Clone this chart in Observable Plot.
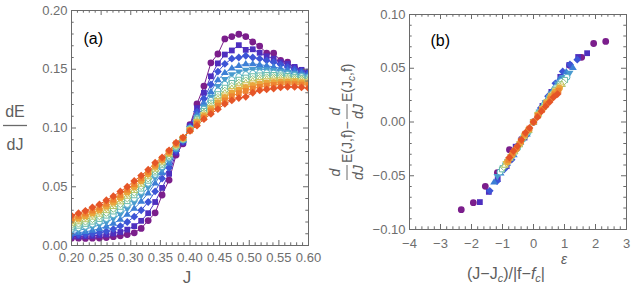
<!DOCTYPE html>
<html><head><meta charset="utf-8">
<script src="https://cdn.jsdelivr.net/npm/d3@7"></script>
<script src="https://cdn.jsdelivr.net/npm/@observablehq/plot@0.6"></script>
<style>
body{margin:0;background:#fff;}
#wrap{position:relative;width:631px;height:290px;overflow:hidden;font-family:"Liberation Sans",Arial,sans-serif;background:#fff;}
#wrap svg{position:absolute;}
</style></head><body><div id="wrap"></div>
<script>
// ---------- data ----------
const jValues = [0.2000,0.2118,0.2235,0.2353,0.2471,0.2588,0.2706,0.2824,0.2941,0.3059,0.3176,0.3294,0.3412,0.3529,0.3647,0.3765,0.3882,0.4000,0.4118,0.4235,0.4353,0.4471,0.4588,0.4706,0.4824,0.4941,0.5059,0.5176,0.5294,0.5412,0.5529,0.5647,0.5765,0.5882,0.6000];
const seriesNames = ["f1","f2","f3","f4","f5","f6","f7","f8","f9","f10","f11","f12","f13"];
const series1 = [0.0062,0.0062,0.0060,0.0062,0.0064,0.0068,0.0075,0.0083,0.0093,0.0108,0.0145,0.0212,0.0278,0.0430,0.0557,0.0770,0.0866,0.1028,0.1205,0.1357,0.1555,0.1630,0.1758,0.1778,0.1798,0.1778,0.1732,0.1697,0.1636,0.1636,0.1575,0.1560,0.1514,0.1490,0.1474];
const series2 = [0.0076,0.0077,0.0079,0.0082,0.0087,0.0093,0.0102,0.0115,0.0135,0.0165,0.0210,0.0275,0.0370,0.0490,0.0610,0.0790,0.0875,0.1020,0.1170,0.1300,0.1440,0.1550,0.1625,0.1660,0.1705,0.1665,0.1670,0.1640,0.1610,0.1590,0.1560,0.1545,0.1520,0.1495,0.1480];
const series3 = [0.0089,0.0092,0.0096,0.0102,0.0110,0.0122,0.0140,0.0165,0.0200,0.0245,0.0300,0.0370,0.0460,0.0570,0.0660,0.0805,0.0885,0.1010,0.1140,0.1250,0.1370,0.1480,0.1545,0.1590,0.1600,0.1615,0.1600,0.1590,0.1575,0.1560,0.1540,0.1520,0.1500,0.1482,0.1468];
const series4 = [0.0103,0.0109,0.0117,0.0128,0.0143,0.0162,0.0188,0.0222,0.0265,0.0315,0.0375,0.0445,0.0530,0.0620,0.0700,0.0815,0.0892,0.1005,0.1115,0.1210,0.1310,0.1410,0.1470,0.1510,0.1530,0.1545,0.1545,0.1540,0.1530,0.1520,0.1508,0.1495,0.1480,0.1466,0.1455];
const series5 = [0.0120,0.0129,0.0141,0.0156,0.0175,0.0198,0.0228,0.0265,0.0313,0.0365,0.0425,0.0495,0.0575,0.0650,0.0725,0.0825,0.0897,0.1000,0.1095,0.1180,0.1265,0.1355,0.1415,0.1455,0.1478,0.1492,0.1500,0.1500,0.1497,0.1490,0.1482,0.1473,0.1462,0.1451,0.1441];
const series6 = [0.0138,0.0150,0.0164,0.0182,0.0203,0.0230,0.0262,0.0302,0.0350,0.0400,0.0460,0.0530,0.0605,0.0672,0.0745,0.0832,0.0900,0.0995,0.1085,0.1160,0.1235,0.1315,0.1372,0.1412,0.1438,0.1455,0.1465,0.1470,0.1470,0.1467,0.1462,0.1455,0.1447,0.1438,0.1429];
const series7 = [0.0155,0.0169,0.0185,0.0204,0.0227,0.0255,0.0290,0.0330,0.0378,0.0428,0.0485,0.0552,0.0622,0.0688,0.0757,0.0840,0.0903,0.0992,0.1075,0.1145,0.1215,0.1287,0.1342,0.1383,0.1410,0.1428,0.1440,0.1447,0.1450,0.1450,0.1447,0.1442,0.1435,0.1427,0.1419];
const series8 = [0.0171,0.0186,0.0203,0.0224,0.0248,0.0277,0.0312,0.0352,0.0400,0.0450,0.0505,0.0570,0.0638,0.0700,0.0767,0.0845,0.0906,0.0990,0.1068,0.1132,0.1198,0.1265,0.1318,0.1358,0.1386,0.1405,0.1418,0.1427,0.1432,0.1434,0.1433,0.1430,0.1424,0.1417,0.1410];
const series9 = [0.0186,0.0202,0.0220,0.0242,0.0267,0.0297,0.0332,0.0372,0.0420,0.0468,0.0522,0.0585,0.0650,0.0710,0.0775,0.0850,0.0909,0.0987,0.1060,0.1122,0.1185,0.1248,0.1298,0.1337,0.1365,0.1385,0.1400,0.1410,0.1416,0.1420,0.1420,0.1418,0.1413,0.1407,0.1401];
const series10 = [0.0200,0.0217,0.0236,0.0259,0.0285,0.0315,0.0350,0.0390,0.0437,0.0485,0.0537,0.0598,0.0662,0.0720,0.0783,0.0855,0.0911,0.0985,0.1055,0.1112,0.1172,0.1232,0.1280,0.1318,0.1346,0.1367,0.1383,0.1394,0.1401,0.1406,0.1408,0.1407,0.1403,0.1398,0.1392];
const series11 = [0.0214,0.0232,0.0252,0.0276,0.0302,0.0333,0.0368,0.0408,0.0455,0.0500,0.0552,0.0610,0.0673,0.0728,0.0790,0.0862,0.0914,0.0982,0.1045,0.1100,0.1160,0.1215,0.1260,0.1298,0.1325,0.1345,0.1362,0.1375,0.1383,0.1389,0.1392,0.1392,0.1390,0.1386,0.1380];
const series12 = [0.0233,0.0252,0.0272,0.0297,0.0323,0.0355,0.0390,0.0430,0.0475,0.0522,0.0572,0.0626,0.0688,0.0738,0.0800,0.0868,0.0917,0.0978,0.1035,0.1088,0.1142,0.1190,0.1235,0.1270,0.1297,0.1315,0.1335,0.1350,0.1360,0.1367,0.1372,0.1374,0.1373,0.1370,0.1365];
const series13 = [0.0255,0.0275,0.0295,0.0325,0.0350,0.0385,0.0420,0.0460,0.0500,0.0550,0.0595,0.0645,0.0705,0.0750,0.0810,0.0875,0.0920,0.0975,0.1020,0.1075,0.1120,0.1160,0.1205,0.1235,0.1255,0.1265,0.1300,0.1320,0.1328,0.1336,0.1345,0.1350,0.1350,0.1345,0.1338];
// scaling-collapse parameters (panel b)
const criticalJ = 0.4;
const collapseHalfWidth = 0.071;
const collapseScale = [33, 24.5, 20, 18, 16.5, 15.3, 14.4, 13.6, 13, 12.4, 11.9, 11.4, 11];
// tick labels
const xTicksA = [0.20,0.25,0.30,0.35,0.40,0.45,0.50,0.55,0.60];
const yTicksA = [0.00,0.05,0.10,0.15,0.20];
const xTicksB = [-4,-3,-2,-1,0,1,2,3];
const yTicksB = [-0.10,-0.05,0.00,0.05,0.10];

// ---------- styles ----------
const seriesColors = ["#7b1e8c","#4e2fbf","#3d55d6","#3c7fd6","#4a9bd0","#55b0c4","#68bca8","#87c284","#aec466","#d1c150","#eaa63c","#ee8431","#e55527"];
const shapes = ["circle","square","diamond","up","down","circle","square","diamond","up","down","circle","square","diamond"];
const openMarker = [false,false,false,false,false,true,true,true,true,true,false,false,false];

const allSeries = [series1,series2,series3,series4,series5,series6,series7,series8,series9,series10,series11,series12,series13];

function makeSymbol(kind){
  return {draw(ctx, size){
    const r = Math.sqrt(size/Math.PI);
    if (kind==="circle"){ ctx.moveTo(r,0); ctx.arc(0,0,r,0,2*Math.PI); }
    else if (kind==="square"){ const h=r*0.85; ctx.moveTo(-h,-h); ctx.lineTo(h,-h); ctx.lineTo(h,h); ctx.lineTo(-h,h); ctx.closePath(); }
    else if (kind==="diamond"){ const h=r*1.15; ctx.moveTo(0,-h); ctx.lineTo(h,0); ctx.lineTo(0,h); ctx.lineTo(-h,0); ctx.closePath(); }
    else if (kind==="up"){ const h=r*1.15; ctx.moveTo(0,-h); ctx.lineTo(h,h*0.6); ctx.lineTo(-h,h*0.6); ctx.closePath(); }
    else { const h=r*1.15; ctx.moveTo(0,h); ctx.lineTo(h,-h*0.6); ctx.lineTo(-h,-h*0.6); ctx.closePath(); }
  }};
}
const symbols = shapes.map(makeSymbol);

// ---------- tables ----------
const rowsA = [];
allSeries.forEach((vals,i)=> vals.forEach((v,k)=> rowsA.push({series:seriesNames[i], i, J:jValues[k], v})));
const kc = jValues.indexOf(criticalJ);
const rowsB = [];
allSeries.forEach((vals,i)=> vals.forEach((v,k)=>{
  const J = jValues[k];
  if (Math.abs(J-criticalJ) <= collapseHalfWidth)
    rowsB.push({series:seriesNames[i], i, x:(J-criticalJ)*collapseScale[i], y:v - vals[kc]});
}));

const frameColor = "#6a6a6a";
const textColor = "#6e6e6e";
const minus = s => s.replace("-", "\u2212");

function frameTicks(xMajor, xMinor, yMajor, yMinor, fw, fh){
  const M = 5, m = 2.7;
  const o = {stroke: frameColor, strokeWidth: 1};
  return [
    Plot.tickX(xMajor, {x: d=>d, insetTop: fh-M, ...o}),
    Plot.tickX(xMajor, {x: d=>d, insetBottom: fh-M, ...o}),
    Plot.tickX(xMinor, {x: d=>d, insetTop: fh-m, ...o}),
    Plot.tickX(xMinor, {x: d=>d, insetBottom: fh-m, ...o}),
    Plot.tickY(yMajor, {y: d=>d, insetRight: fw-M, ...o}),
    Plot.tickY(yMajor, {y: d=>d, insetLeft: fw-M, ...o}),
    Plot.tickY(yMinor, {y: d=>d, insetRight: fw-m, ...o}),
    Plot.tickY(yMinor, {y: d=>d, insetLeft: fw-m, ...o}),
    Plot.frame({stroke: frameColor, strokeWidth: 1})
  ];
}

function seriesDots(rows, clip){
  return seriesNames.map((name,i)=> Plot.dot(rows.filter(d=>d.i===i), {
    x: rows===rowsA ? "J" : "x", y: rows===rowsA ? "v" : "y",
    symbol: symbols[i],
    r: openMarker[i] ? 3.0 : 3.4,
    fill: openMarker[i] ? "white" : "series",
    stroke: openMarker[i] ? "series" : "none",
    strokeWidth: 1,
    clip
  }));
}

const wrap = document.getElementById("wrap");
const fontFamily = '"Liberation Sans", Arial, sans-serif';

// ---------- panel (a) ----------
const A = {w:320, h:290, ml:71, mr:12, mt:10, mb:45};
const fwA = A.w-A.ml-A.mr, fhA = A.h-A.mt-A.mb;
const plotA = Plot.plot({
  width: A.w, height: A.h, marginLeft: A.ml, marginRight: A.mr, marginTop: A.mt, marginBottom: A.mb,
  x: {domain: [0.2, 0.6], label: null},
  y: {domain: [0, 0.2], label: null},
  color: {type: "ordinal", domain: seriesNames, range: seriesColors},
  style: {fontFamily, background: "transparent", overflow: "visible"},
  marks: [
    Plot.line(rowsA, {x: "J", y: "v", z: "series", stroke: "series", strokeWidth: 1, clip: true}),
    ...seriesDots(rowsA, true),
    ...frameTicks(xTicksA, d3.range(0.21, 0.6, 0.01).filter(v=>Math.abs(v*20-Math.round(v*20))>1e-6), yTicksA, d3.range(0.01, 0.2, 0.01).filter(v=>Math.abs(v*20-Math.round(v*20))>1e-6), fwA, fhA),
    Plot.axisX(xTicksA, {tickSize: 0, tickPadding: 7, tickFormat: d=>d.toFixed(2), fontSize: 13, fill: textColor, label: null}),
    Plot.axisY(yTicksA, {tickSize: 0, tickPadding: 4, tickFormat: d=>d.toFixed(2), fontSize: 13, fill: textColor, label: null}),
    Plot.text(["(a)"], {frameAnchor: "top-left", dx: 12, dy: 22, text: d=>d, fontSize: 16, fill: "black", textAnchor: "start"})
  ]
});
plotA.style.left = "0px"; plotA.style.top = "0px";
wrap.appendChild(plotA);

// ---------- panel (b) ----------
const B = {w:301, h:290, ml:79, mr:5, mt:14, mb:61};
const fwB = B.w-B.ml-B.mr, fhB = B.h-B.mt-B.mb;
const plotB = Plot.plot({
  width: B.w, height: B.h, marginLeft: B.ml, marginRight: B.mr, marginTop: B.mt, marginBottom: B.mb,
  x: {domain: [-4, 3], label: null},
  y: {domain: [-0.1, 0.1], label: null},
  color: {type: "ordinal", domain: seriesNames, range: seriesColors},
  style: {fontFamily, background: "transparent", overflow: "visible"},
  marks: [
    ...seriesDots(rowsB, false),
    ...frameTicks(xTicksB, d3.range(-3.8, 3, 0.2).filter(v=>Math.abs(v-Math.round(v))>1e-6), yTicksB, d3.range(-0.09, 0.1, 0.01).filter(v=>Math.abs(v*20-Math.round(v*20))>1e-6), fwB, fhB),
    Plot.axisX(xTicksB, {tickSize: 0, tickPadding: 9, tickFormat: d=>minus(String(d)), fontSize: 13, fill: textColor, label: null}),
    Plot.axisY(yTicksB, {tickSize: 0, tickPadding: 4, tickFormat: d=>minus(d.toFixed(2)), fontSize: 13, fill: textColor, label: null}),
    Plot.text(["(b)"], {frameAnchor: "top-left", dx: 21, dy: 20, text: d=>d, fontSize: 16, fill: "black", textAnchor: "start"})
  ]
});
plotB.style.left = "330px"; plotB.style.top = "0px";
wrap.appendChild(plotB);

// ---------- axis titles ----------
const ns = "http://www.w3.org/2000/svg";
const ov = document.createElementNS(ns, "svg");
ov.setAttribute("width", 631); ov.setAttribute("height", 290);
ov.style.left = "0px"; ov.style.top = "0px"; ov.style.pointerEvents = "none";
ov.innerHTML = `
<g font-family='${fontFamily}' fill='#5e5e5e'>
  <text x="15" y="117" font-size="16" text-anchor="middle">dE</text>
  <line x1="3" x2="27" y1="125.5" y2="125.5" stroke="#6a6a6a" stroke-width="1.3"/>
  <text x="15" y="150" font-size="16" text-anchor="middle">dJ</text>
  <text x="187" y="283" font-size="17" text-anchor="middle">J</text>
  <text x="506" y="279" font-size="16" text-anchor="middle">(J\u2212J<tspan font-size="11" font-style="italic" dy="3">c</tspan><tspan dy="-3">)/|f\u2212</tspan><tspan font-style="italic">f</tspan><tspan font-size="11" font-style="italic" dy="3">c</tspan><tspan dy="-3">|</tspan></text>
  <text x="561" y="264" font-size="14" font-style="italic">\u03b5</text>
  <g transform="translate(352,119) rotate(-90)" font-size="14">
    <text x="-53.5" y="-12" text-anchor="middle" font-style="italic">d</text>
    <line x1="-61" x2="-46" y1="-5" y2="-5" stroke="#6a6a6a" stroke-width="1"/>
    <text x="-53.5" y="11" text-anchor="middle" font-style="italic">dJ</text>
    <text x="-44" y="0">E(J,f)\u2212</text>
    <text x="7.5" y="-12" text-anchor="middle" font-style="italic">d</text>
    <line x1="0" x2="15" y1="-5" y2="-5" stroke="#6a6a6a" stroke-width="1"/>
    <text x="7.5" y="11" text-anchor="middle" font-style="italic">dJ</text>
    <text x="17" y="0">E(J<tspan font-size="10" font-style="italic" dy="3">c</tspan><tspan dy="-3">,f)</tspan></text>
  </g>
</g>`;
wrap.appendChild(ov);
</script>
</body></html>
